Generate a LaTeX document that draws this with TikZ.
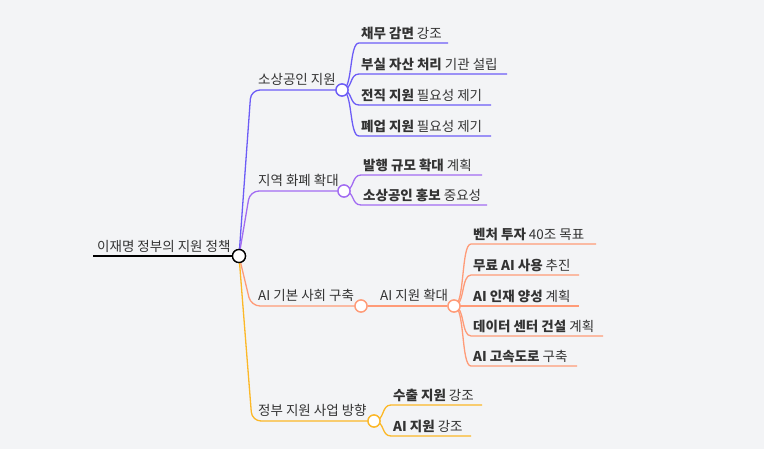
\documentclass[tikz,border=0pt]{standalone}
\usepackage{fontspec}
\setmainfont{Noto Sans CJK KR}
\newcommand\leaf[6]{% color, from node, y, xstart, xend, text
  \coordinate (e#2#3) at (#5,#3);
  \draw[ln,#1] (#2.center) .. controls ([xshift=11pt]#2.center) and (#4-6,#3) .. (#4+4,#3) -- (e#2#3);
  \node[txt] at (#4+6,#3-3) {#6};}
\begin{document}
\begin{tikzpicture}[x=1pt,y=-1pt,
  txt/.style={anchor=south west,inner sep=0pt,text=black!80,font=\fontsize{13.5}{15}\selectfont},
  dot/.style={circle,draw,fill=white,line width=1.3pt,minimum size=12pt,inner sep=0pt},
  ln/.style={line width=1.3pt}]
\definecolor{cA}{HTML}{6C5CF6}
\definecolor{cB}{HTML}{A26CF2}
\definecolor{cC}{HTML}{FF9B78}
\definecolor{cD}{HTML}{FCB827}
\fill[fill={rgb,255:red,243;green,244;blue,246}] (0,0) rectangle (764,449);
\useasboundingbox (0,0) rectangle (764,449);
% root
\node[txt] (rt) at (97,253) {이재명 정부의 지원 정책};
\coordinate (rs) at (93,256);
\node[dot,draw=black,minimum size=13pt] (root) at (239,256) {};
\draw[line width=2.6pt] (rs) -- (root);
% branches
\node[dot,draw=cA] (b1) at (342,90) {};
\node[dot,draw=cB] (b2) at (344,191) {};
\node[dot,draw=cC] (b3) at (361,306) {};
\node[dot,draw=cC] (b31) at (454,306) {};
\node[dot,draw=cD] (b4) at (374,421) {};
\draw[ln,cA,rounded corners=9pt] (root.center) -- (251,90) -- (b1);
\draw[ln,cB,rounded corners=9pt] (root.center) -- (250,191) -- (b2);
\draw[ln,cC,rounded corners=9pt] (root.center) -- (251,306) -- (b3);
\draw[ln,cD,rounded corners=9pt] (root.center) -- (252,421) -- (b4);
\draw[ln,cC] (b3) -- (b31);
\node[txt] at (258,86) {소상공인 지원};
\node[txt] at (258,187) {지역 화폐 확대};
\node[txt] at (258,302) {AI 기본 사회 구축};
\node[txt] at (380,302) {AI 지원 확대};
\node[txt] at (258,417) {정부 지원 사업 방향};
\leaf{cA}{b1}{43}{355}{448}{\textbf{채무 감면} 강조}
\leaf{cA}{b1}{74}{355}{507}{\textbf{부실 자산 처리} 기관 설립}
\leaf{cA}{b1}{105}{355}{491}{\textbf{전직 지원} 필요성 제기}
\leaf{cA}{b1}{136}{355}{491}{\textbf{폐업 지원} 필요성 제기}
\leaf{cB}{b2}{175}{357}{482}{\textbf{발행 규모 확대} 계획}
\leaf{cB}{b2}{205}{357}{487}{\textbf{소상공인 홍보} 중요성}
\leaf{cC}{b31}{244}{467}{596}{\textbf{벤처 투자} 40조 목표}
\leaf{cC}{b31}{275}{467}{579}{\textbf{무료 AI 사용} 추진}
\leaf{cC}{b31}{306}{467}{579}{\textbf{AI 인재 양성} 계획}
\leaf{cC}{b31}{336}{467}{603}{\textbf{데이터 센터 건설} 계획}
\leaf{cC}{b31}{366}{467}{577}{\textbf{AI 고속도로} 구축}
\leaf{cD}{b4}{405}{387}{482}{\textbf{수출 지원} 강조}
\leaf{cD}{b4}{436}{387}{471}{\textbf{AI 지원} 강조}
% circles on top
\node[dot,draw=black,minimum size=13pt] at (root) {};
\node[dot,draw=cA] at (b1) {};
\node[dot,draw=cB] at (b2) {};
\node[dot,draw=cC] at (b3) {};
\node[dot,draw=cC] at (b31) {};
\node[dot,draw=cD] at (b4) {};
\end{tikzpicture}
\end{document}
